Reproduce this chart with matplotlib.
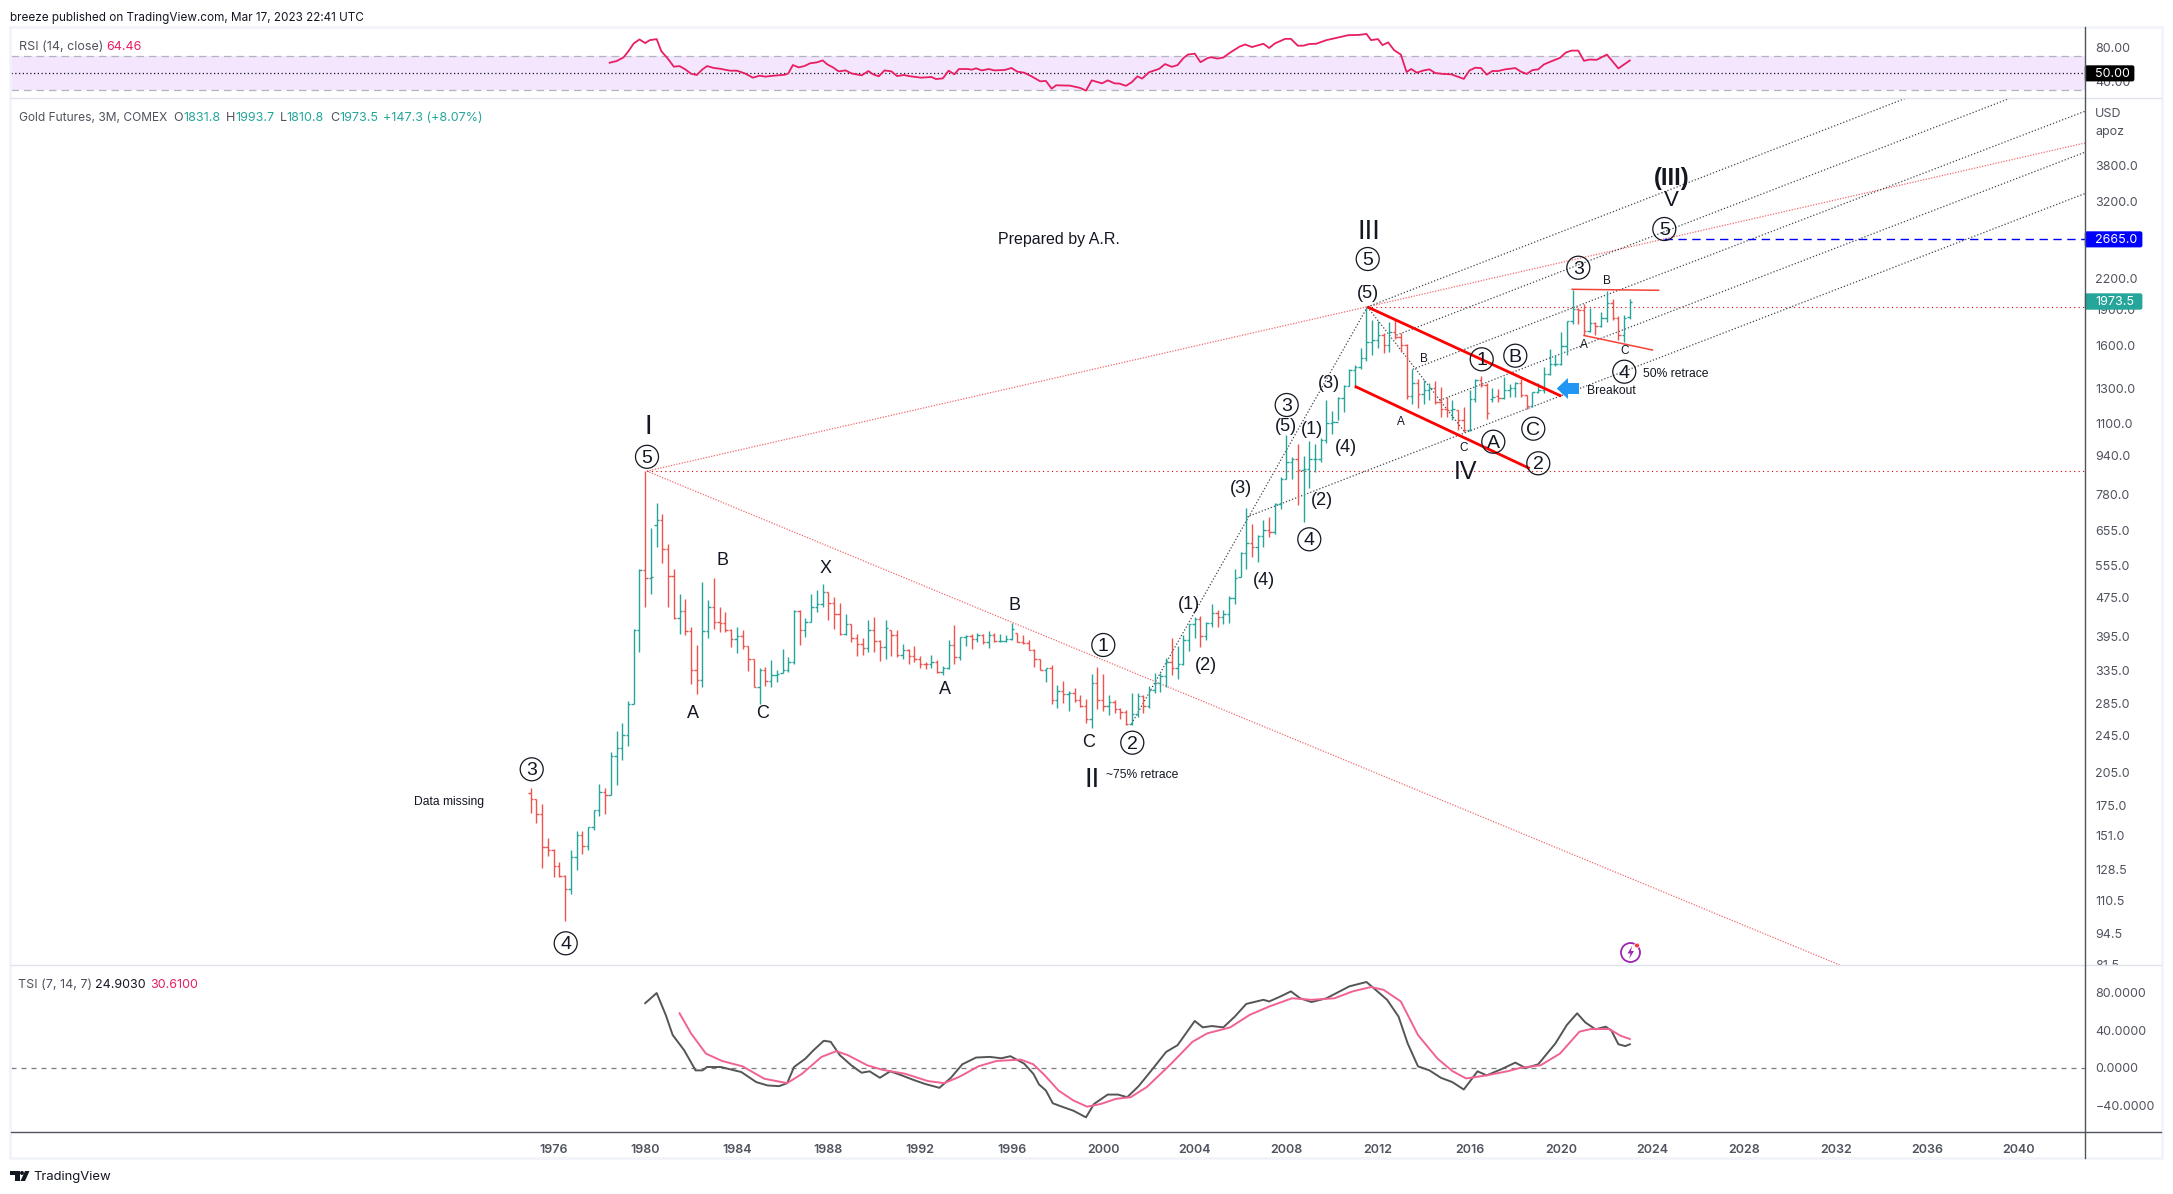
import numpy as np
import matplotlib
matplotlib.use('Agg')
import matplotlib.pyplot as plt
from matplotlib.patches import Circle, Polygon, Rectangle, FancyBboxPatch

W, H = 2173, 1194

# quarterly gold bars, one per quarter from 1975.0
first_year = 1975.0
opens = [
    186, 180, 168, 143, 141.5, 130.5, 124.5, 117, 136.5, 151.5,
    144, 157.5, 171, 187, 184, 221.5, 230, 245, 284.5, 406,
    542, 521, 673, 691, 601.5, 526.5, 430.5, 446, 404, 335,
    319.5, 405, 454.5, 423.5, 420.5, 406, 388.5, 395, 376.5, 353,
    309.5, 335, 318, 327, 331, 336, 348.5, 445.5, 407.5, 422.5,
    454.5, 460, 488, 462, 438.5, 398.5, 418, 390.5, 381, 373,
    406, 386, 375, 406, 396.5, 360, 370, 358.5, 354.5, 346,
    345, 348.5, 332, 339, 379, 357, 393, 394.5, 388.5, 396.5,
    383.5, 396.5, 386, 386, 388.5, 400, 384, 382, 370, 354.5,
    336, 338, 291, 303.5, 298.5, 300, 290, 282.5, 264.5, 314.5,
    290, 282.5, 287.5, 277.5, 274.5, 258.5, 271.5, 296.5, 282, 304.5,
    314.5, 325.5, 348.5, 338, 346, 387, 418, 429.5, 394.5, 420.5,
    442, 433, 438.5, 473.5, 525, 589, 618, 606, 638, 659,
    651.5, 746, 842.5, 910.5, 927.5, 879.5, 884, 927.5, 927.5, 1016,
    1100, 1105.5, 1243, 1313, 1423, 1439, 1502, 1625, 1640, 1678,
    1599, 1704, 1664, 1599, 1250, 1334, 1267, 1287, 1300, 1218,
    1179, 1173, 1170, 1114, 1062, 1237, 1355, 1323, 1237, 1250,
    1243, 1287, 1305, 1334, 1258, 1192, 1278, 1287, 1395, 1464,
    1464, 1593, 1797, 1907, 1897, 1712, 1780, 1752, 1827, 1955,
    1827, 1678, 1831.8,
]
highs = [
    190, 180, 176, 149.5, 142, 133, 125, 141.5, 155, 155,
    157.5, 171, 193.5, 190, 226, 250, 260, 289, 409.5, 544,
    873, 665.5, 750, 709, 614, 546.5, 483, 471, 412.5, 378,
    511.5, 469, 521.5, 454.5, 443.5, 408, 412.5, 406, 376.5, 354.5,
    338, 340.5, 351.5, 335, 370.5, 357, 447, 447, 430, 483,
    492.5, 508.5, 488, 476.5, 462.5, 438.5, 418, 398.5, 392, 426,
    433, 387, 426, 406, 407.5, 379.5, 372, 376, 359, 348.5,
    360.5, 351.5, 342.5, 387, 416, 393, 396.5, 398.5, 401, 399.5,
    404, 401, 398.5, 396.5, 420.5, 401, 396.5, 387, 372, 354.5,
    338, 343, 312, 318, 303.5, 307, 297, 292.5, 329.5, 340,
    328.5, 297, 290, 279, 276.5, 300, 300.5, 297, 310.5, 330.5,
    330.5, 356, 392, 376, 396.5, 418, 433, 434.5, 422.5, 460,
    448.5, 447, 480, 546.5, 592, 732.5, 678.5, 641, 691, 699.5,
    749, 847.5, 1037, 935, 993.5, 938, 1008, 993.5, 1022.5, 1227,
    1165.5, 1246, 1319, 1430, 1453, 1577, 1923, 1804, 1797, 1693,
    1790, 1804, 1693, 1607, 1430, 1362, 1355, 1332, 1347, 1308,
    1246, 1227, 1170, 1188, 1288, 1362, 1377, 1334, 1300, 1298,
    1373, 1330, 1340, 1362, 1260, 1278, 1334, 1441, 1570, 1525,
    1704, 1797, 2089, 1915, 1953, 1915, 1785, 1877, 2078, 2000,
    1843, 1851, 1993.7,
]
lows = [
    169, 161, 129.5, 137, 124, 124, 100.5, 114, 128.5, 138.5,
    141, 155.5, 166.5, 167.5, 184, 193, 218, 233, 284.5, 366,
    454, 483, 606, 561, 454.5, 429.5, 398, 396.5, 313, 298.5,
    309.5, 391.5, 409.5, 403, 403, 375, 364, 372, 334, 308.5,
    284.5, 310.5, 309.5, 317, 330.5, 332, 346, 378, 393, 422.5,
    443.5, 454.5, 426, 408, 396.5, 396.5, 383, 359, 360.5, 366,
    366, 350.5, 354.5, 359, 357, 354.5, 346, 348.5, 338, 336.5,
    338, 330.5, 328, 336.5, 345, 351.5, 376, 370.5, 383, 379.5,
    373, 384.5, 384.5, 384.5, 387, 384, 381, 369, 340.5, 335,
    317, 284.5, 279.5, 286.5, 275.5, 287.5, 281, 260.5, 254, 278,
    275.5, 270, 272.5, 264.5, 257, 257, 267, 272.5, 279, 300,
    302, 309.5, 327.5, 321.5, 343, 367.5, 390.5, 374, 387, 412.5,
    412.5, 419.5, 420.5, 460, 525, 546.5, 577.5, 564, 606, 634.5,
    644, 729, 842.5, 842.5, 741, 683.5, 806.5, 869.5, 911, 997.5,
    1046, 1114, 1160, 1313, 1300, 1430, 1480, 1525, 1577, 1538,
    1551, 1651, 1551, 1237, 1204, 1185, 1208, 1227, 1208, 1132,
    1132, 1114, 1062, 1054, 1059, 1218, 1308, 1123, 1216, 1218,
    1237, 1246, 1246, 1246, 1179, 1188, 1272, 1272, 1385, 1446,
    1453, 1525, 1775, 1769, 1678, 1704, 1678, 1747, 1789, 1804,
    1640, 1625, 1810.8,
]
closes = [
    180, 168, 143, 141.5, 130.5, 124.5, 117, 136.5, 151.5, 144,
    157.5, 171, 187, 184, 221.5, 230, 245, 284.5, 406, 542,
    521, 524, 689, 601.5, 526.5, 430.5, 446, 404, 335, 319.5,
    405, 454.5, 423.5, 420.5, 407.5, 388.5, 395, 376.5, 353, 309.5,
    335, 318, 327, 329.5, 336, 348.5, 445.5, 407.5, 422.5, 454.5,
    460, 488, 462, 438.5, 398.5, 418, 390.5, 381, 373, 406,
    386, 375, 410, 396.5, 360, 370, 358.5, 354.5, 346, 345,
    348.5, 332, 339, 379, 357, 393, 394.5, 388.5, 396.5, 383.5,
    396.5, 386, 386, 388.5, 408.5, 384, 382, 370, 354.5, 336,
    338, 291, 303.5, 298.5, 300, 290, 282.5, 264.5, 314.5, 290,
    282.5, 287.5, 277.5, 274.5, 258.5, 271.5, 296.5, 282, 304.5, 314.5,
    325.5, 348.5, 338, 346, 387, 418, 429.5, 394.5, 420.5, 442,
    433, 438.5, 473.5, 521, 589, 618, 606, 638, 659, 651.5,
    746, 842.5, 910.5, 927.5, 879.5, 884, 927.5, 927.5, 1016, 1100,
    1105.5, 1243, 1313, 1423, 1439, 1502, 1625, 1640, 1678, 1599,
    1704, 1664, 1599, 1250, 1334, 1267, 1287, 1300, 1218, 1179,
    1173, 1175, 1114, 1062, 1237, 1355, 1323, 1152, 1246, 1243,
    1287, 1305, 1334, 1258, 1192, 1278, 1287, 1395, 1464, 1464,
    1593, 1797, 1907, 1897, 1712, 1780, 1752, 1827, 1955, 1827,
    1678, 1825, 1973.5,
]

rsi_years = [
    1978.45, 1978.75, 1979.05, 1979.25, 1979.5, 1979.75, 1980.0, 1980.2, 1980.5, 1980.7,
    1981.0, 1981.25, 1981.5, 1981.75, 1982.0, 1982.25, 1982.5, 1982.7, 1983.0, 1983.25,
    1983.7, 1984.0, 1984.35, 1984.7, 1985.0, 1985.25, 1985.6, 1986.1, 1986.25, 1986.45,
    1986.7, 1986.95, 1987.2, 1987.5, 1987.75, 1987.95, 1988.2, 1988.45, 1988.75, 1989.0,
    1989.45, 1989.75, 1989.95, 1990.2, 1990.45, 1990.75, 1991.0, 1991.3, 1991.5, 1992.05,
    1992.5, 1992.7, 1993.0, 1993.25, 1993.5, 1993.7, 1994.1, 1994.25, 1994.45, 1994.7,
    1995.0, 1995.25, 1995.7, 1996.0, 1996.25, 1996.55, 1996.85, 1997.25, 1997.5, 1997.75,
    1997.95, 1998.55, 1999.0, 1999.25, 1999.5, 1999.95, 2000.2, 2000.5, 2000.7, 2001.0,
    2001.25, 2001.5, 2001.7, 2002.0, 2002.45, 2002.7, 2003.0, 2003.25, 2003.5, 2003.7,
    2004.0, 2004.25, 2004.55, 2004.7, 2005.0, 2005.25, 2005.5, 2005.95, 2006.2, 2006.5,
    2007.0, 2007.25, 2007.5, 2007.95, 2008.2, 2008.5, 2008.75, 2009.0, 2009.3, 2009.75,
    2010.2, 2010.7, 2011.2, 2011.5, 2011.7, 2012.0, 2012.2, 2012.45, 2012.7, 2013.0,
    2013.25, 2013.45, 2013.7, 2014.0, 2014.25, 2014.5, 2014.85, 2015.2, 2015.75, 2016.0,
    2016.25, 2016.5, 2016.75, 2017.0, 2017.25, 2017.55, 2018.0, 2018.25, 2018.5, 2018.75,
    2019.0, 2019.25, 2019.55, 2019.95, 2020.2, 2020.45, 2020.75, 2021.0, 2021.25, 2021.55,
    2022.0, 2022.25, 2022.5, 2023.0,
]
rsi_values = [
    61.9, 63.8, 68, 74.6, 84.2, 88.8, 84.6, 88, 89.2, 75.4,
    66.2, 57.3, 58, 54.2, 49.2, 47.7, 54.2, 58, 55.8, 55,
    52.7, 52.7, 49.6, 44.6, 46.9, 45.8, 46.9, 48, 49.6, 59.2,
    56.5, 58, 61.2, 62.3, 64.6, 60, 56.5, 51.9, 53, 49.6,
    47.3, 52.3, 48.5, 46.2, 53, 51.9, 46.5, 47.7, 46.5, 44.6,
    45.4, 43, 43.8, 52.7, 48.5, 54.6, 54.6, 53.8, 55.4, 53,
    54.6, 53, 53.5, 55.8, 51.5, 50.4, 46.5, 40.4, 40.8, 31.9,
    35.8, 35.4, 32.7, 29.6, 41.5, 38, 41.5, 38, 37.8, 35.2,
    39.4, 46.2, 43.5, 50.8, 54.9, 60.3, 57.2, 59.1, 67.1, 71.3,
    72.4, 62.5, 67.1, 68.3, 66.7, 67.9, 72.8, 80.4, 83, 80,
    83.8, 78.9, 84.2, 89.5, 89.5, 81.6, 81.6, 83.5, 83.8, 88,
    90.7, 93.7, 94.1, 95.2, 88, 89.2, 82.3, 85.4, 76.6, 71.3,
    51.1, 54.6, 50.4, 53, 54.2, 50, 48.9, 48.5, 43.2, 53,
    56.1, 55.7, 48.1, 52.3, 52.3, 54.2, 55.7, 51.5, 48.9, 53.4,
    54.2, 59.9, 63.3, 67.5, 73.6, 75.9, 75.9, 64.1, 65.6, 65.2,
    71.3, 63.3, 55.3, 64.46,
]

tsi_years = [
    1980.0, 1980.5, 1980.9, 1981.2, 1981.7, 1982.2, 1982.5, 1982.7, 1983.3, 1984.2,
    1984.85, 1985.35, 1985.85, 1986.2, 1986.5, 1987.0, 1987.35, 1987.8, 1988.1, 1988.5,
    1989.0, 1989.45, 1989.8, 1990.25, 1990.7, 1991.2, 1991.7, 1992.2, 1992.85, 1993.35,
    1993.85, 1994.45, 1995.05, 1995.55, 1995.95, 1996.55, 1996.95, 1997.2, 1997.5, 1997.8,
    1998.2, 1998.7, 1999.25, 1999.6, 2000.2, 2000.65, 2001.05, 2001.55, 2002.05, 2002.75,
    2003.25, 2004.0, 2004.35, 2004.75, 2005.25, 2005.75, 2006.25, 2007.0, 2007.25, 2007.75,
    2008.2, 2008.6, 2009.1, 2009.75, 2010.75, 2011.5, 2011.9, 2012.4, 2012.9, 2013.3,
    2013.75, 2014.25, 2014.75, 2015.25, 2015.75, 2016.35, 2016.75, 2017.45, 2018.0, 2018.45,
    2019.0, 2019.75, 2020.25, 2020.7, 2021.05, 2021.5, 2021.95, 2022.2, 2022.5, 2022.8,
    2023.0,
]
tsi_values = [
    68.8, 79.6, 56, 34.8, 18.6, -2.9, -2.9, 0.7, 0.7, -4.7,
    -15.4, -19, -19.7, -16.5, 0.7, 9.7, 18.6, 28.7, 27.6, 13.3,
    2.5, -5.4, -3.9, -10.8, -3.9, -8.2, -12.9, -17.2, -21.5, -10.8,
    3.6, 10.8, 11.5, 10, 12.2, 4.3, -6.5, -17.9, -24.4, -38,
    -41.6, -45.9, -53, -38.7, -28.7, -28.7, -31.5, -19.7, -4.7, 16.8,
    24, 49.8, 43, 44.4, 43, 54.5, 68, 72.4, 70.6, 76,
    81.4, 74, 70, 74, 86.7, 91.4, 83, 72.4, 54.5, 25.8,
    1.4, -2.9, -10.8, -15.4, -23.3, -3.9, -8.2, -1, 5.4, -0.4,
    3.6, 25.8, 45.5, 58, 48.4, 40.9, 43.7, 39.4, 25, 23,
    24.9,
]
signal_years = [
    1981.5, 1982.0, 1982.65, 1983.35, 1984.25, 1985.2, 1986.2, 1986.85, 1987.7, 1988.35,
    1988.85, 1989.7, 1990.35, 1991.35, 1992.35, 1993.05, 1993.7, 1994.55, 1995.35, 1996.4,
    1996.95, 1997.45, 1998.05, 1998.7, 1999.3, 1999.9, 2000.55, 2001.2, 2001.9, 2002.9,
    2003.9, 2004.55, 2005.55, 2006.4, 2007.25, 2008.25, 2009.1, 2010.1, 2010.9, 2011.7,
    2012.25, 2013.0, 2013.75, 2014.6, 2015.25, 2015.85, 2016.75, 2017.7, 2018.25, 2019.1,
    2019.95, 2020.8, 2021.3, 2022.1, 2022.6, 2023.0,
]
signal_values = [
    58, 36.6, 15, 7.2, 1.4, -11.8, -16.5, -6.5, 11.5, 17.6,
    13.3, 2.5, -2.2, -6.5, -14.3, -16.5, -10, 1.4, 7.2, 8.6,
    3.6, -8.2, -24.4, -35, -41.6, -38.7, -33.3, -31.5, -20.8, 2.5,
    27.6, 36.6, 43, 56.3, 65.2, 74, 72.4, 74, 81.4, 86,
    83, 70.6, 34.8, 9.7, -3.6, -11.5, -8.2, -3.6, 0, 2.5,
    15, 38.4, 41.2, 41.2, 34, 30.61,
]

price_ticks = [3800, 3200, 2200, 1900, 1600, 1300, 1100, 940, 780, 655, 555, 475, 395,
               335, 285, 245, 205, 175, 151, 128.5, 110.5, 94.5, 81.5]
rsi_ticks = [80, 40]
tsi_ticks = [80, 40, 0, -40]
year_ticks = list(range(1976, 2044, 4))

# drawn lines as (year, price)
salmon_lines = [
    ((1980.07, 873), (2042.88, 4230)),
    ((1980.07, 873), (2032.17, 81.2)),
]
level_lines = [(1980.07, 873), (2011.54, 1923)]
grey_lines = [
    ((2011.54, 1923), (2035.05, 5244)),
    ((2012.81, 1679), (2039.6, 5244)),
    ((2013.52, 1425), (2042.87, 4926)),
    ((2014.7, 1227), (2042.87, 4045)),
    ((2006.26, 700), (2042.87, 3316)),
    ((2001.24, 259), (2011.54, 1923)),
    ((2011.54, 1923), (2015.79, 1053.5)),
]
thick_red = [
    ((2011.54, 1923), (2020.01, 1252)),
    ((2010.99, 1313), (2018.63, 884)),
]
thin_red = [
    ((2020.48, 2093), (2024.26, 2083)),
    ((2021.0, 1676), (2023.99, 1563)),
]
target_price = 2665.0
target_start = 2024.48

UP = '#26a69a'
DOWN = '#ef5350'
TEXT = '#50535e'
INK = '#131722'
LINE = '#e0e3eb'
AXIS = '#50535e'
PINK = '#e91e63'
ANNO = 'Liberation Sans'

plt.rcParams['font.family'] = ['Inter', 'DejaVu Sans']
fig = plt.figure(figsize=(W / 100, H / 100), dpi=100, facecolor='white')


def axes_px(x0, y0, x1, y1):
    a = fig.add_axes([x0 / W, 1 - y1 / H, (x1 - x0) / W, (y1 - y0) / H])
    a.set_xlim(1952.28, 2042.88)
    for s in a.spines.values():
        s.set_visible(False)
    a.tick_params(length=0, labelsize=9, labelcolor=TEXT, pad=7.4)
    a.yaxis.tick_right()
    a.set_xticks([])
    return a


ax_rsi = axes_px(10.5, 27, 2085, 98.3)
ax = axes_px(10.5, 98.3, 2085, 965)
ax_tsi = axes_px(10.5, 965, 2085, 1131.7)

# RSI
ax_rsi.set_ylim(20.75, 103.2)
ax_rsi.axhspan(30, 70, color='#f4e6fc', lw=0)
ax_rsi.axhline(70, color='#b2b5be', lw=0.9, dashes=(6, 4))
ax_rsi.axhline(30, color='#b2b5be', lw=0.9, dashes=(6, 4))
ax_rsi.axhline(50, color='#131722', lw=0.9, dashes=(1, 2))
ax_rsi.plot(rsi_years, rsi_values, color=PINK, lw=1.3)
ax_rsi.set_yticks(rsi_ticks, [f'{t:.2f}' for t in rsi_ticks])

# price panel
ax.set_yscale('log')
ax.set_ylim(81.2, 5244)
ax.minorticks_off()
ax.set_yticks(price_ticks, [f'{t:.1f}' for t in price_ticks])
ax.minorticks_off()

xs = first_year + np.arange(len(closes)) / 4
o = np.array(opens)
c = np.array(closes)
bar_col = [UP if b >= a else DOWN for a, b in zip(o, c)]
ax.vlines(xs, lows, highs, colors=bar_col, lw=1.0, zorder=3)
ax.hlines(o, xs - 0.105, xs, colors=bar_col, lw=1.0, zorder=3)
ax.hlines(c, xs, xs + 0.105, colors=bar_col, lw=1.0, zorder=3)

for p, q in salmon_lines:
    ax.plot([p[0], q[0]], [p[1], q[1]], color='#f46a6e', lw=0.9, ls=(0, (1, 1.2)), zorder=2)
for yr, lvl in level_lines:
    ax.plot([yr, 2042.88], [lvl, lvl], color='#d90000', lw=0.8, ls=(0, (1, 3)), zorder=2)
for p, q in grey_lines:
    ax.plot([p[0], q[0]], [p[1], q[1]], color='#45474f', lw=0.9, ls=(0, (1, 1.6)), zorder=2)
for p, q in thick_red:
    ax.plot([p[0], q[0]], [p[1], q[1]], color='#ff0000', lw=2.0, zorder=4, solid_capstyle='butt')
for p, q in thin_red:
    ax.plot([p[0], q[0]], [p[1], q[1]], color='#f44336', lw=1.1, zorder=4)
ax.plot([target_start, 2042.88], [target_price, target_price], color='#0000ff', lw=1.0,
        dashes=(6, 4), zorder=2)

# TSI
ax_tsi.set_ylim(-68.3, 109.5)
ax_tsi.axhline(0, color='#787b86', lw=0.9, dashes=(4, 4))
ax_tsi.plot(tsi_years, tsi_values, color='#555555', lw=1.4)
ax_tsi.plot(signal_years, signal_values, color='#f06292', lw=1.4)
ax_tsi.set_yticks(tsi_ticks, ['80.0000', '40.0000', '0.0000', '\u221240.0000'])
ax_tsi.set_xticks(year_ticks, [str(y) for y in year_ticks], fontweight='semibold', color=TEXT, fontsize=9)
ax_tsi.tick_params(axis='x', pad=8.5)

# overlay in figure pixels: frame, text labels, badges
top = fig.add_axes([0, 0, 1, 1], facecolor='none', zorder=10)
top.set_xlim(0, W)
top.set_ylim(H, 0)
top.axis('off')


def label(x, y, s, size=13, color=INK, ha='center', family=ANNO, **kw):
    top.text(x, y + 1.5, s, fontsize=size, color=color, ha=ha, va='center', family=family, **kw)


def circled(x, y, s):
    top.add_patch(Circle((x, y), 11.5, fc='none', ec=INK, lw=0.9))
    label(x, y, s, size=14)


def badge(x1, y0, y1, s, fc):
    top.add_patch(FancyBboxPatch((2085.5, y0 + 1), x1 - 2085.5 - 1, y1 - y0 - 2,
                                 boxstyle='round,pad=0,rounding_size=1.5', fc=fc, ec=fc, lw=1))
    label(2095, (y0 + y1) / 2 - 1, s, size=9, color='white', ha='left', family='Inter')


# cover for the cut off lowest price label
top.add_patch(Rectangle((2086, 965), 75, 14, fc='white', ec='none'))

# frame and separators
top.add_patch(Rectangle((9.5, 27), 2152.5, 1131, fc='none', ec='#f0f3fa', lw=1.8))
top.plot([10.5, 2161], [98.3, 98.3], color=LINE, lw=1)
top.plot([10.5, 2161], [965, 965], color=LINE, lw=1)
top.plot([10.5, 2161], [1131.7, 1131.7], color=AXIS, lw=1)
top.plot([2085.3, 2085.3], [27, 1158], color=AXIS, lw=1)

# header lines
label(10, 16.5, 'breeze published on TradingView.com, Mar 17, 2023 22:41 UTC', size=8.45,
      color=INK, ha='left', family='Inter')
label(18.7, 45, 'RSI (14, close)', size=9, color=TEXT, ha='left', family='Inter')
label(105.8, 45, '64.46', size=9, color=PINK, ha='left', family='Inter')
label(18.7, 116.7, 'Gold Futures, 3M, COMEX', size=8.6, color=TEXT, ha='left', family='Inter')
for x, s, col in [(173, 'O', TEXT), (183, '1831.8', UP), (226, 'H', TEXT), (235, '1993.7', UP),
                  (279.5, 'L', TEXT), (286.6, '1810.8', UP), (330, 'C', TEXT), (339, '1973.5', UP),
                  (382.6, '+147.3 (+8.07%)', UP)]:
    label(x, 116.7, s, size=9, color=col, ha='left', family='Inter')
label(18, 983.7, 'TSI (7, 14, 7)', size=9, color=TEXT, ha='left', family='Inter')
label(95, 983.7, '24.9030', size=9, color=INK, ha='left', family='Inter')
label(150, 983.7, '30.6100', size=9, color=PINK, ha='left', family='Inter')
label(2095.3, 112.7, 'USD', size=9, color=TEXT, ha='left', family='Inter')
label(2095.3, 130, 'apoz', size=9, color=TEXT, ha='left', family='Inter')

badge(2134.7, 65, 81.7, '50.00', '#000000')
badge(2142.7, 231, 247.7, '2665.0', '#0000ff')
badge(2142.7, 293, 310, '1973.5', UP)

# wave counts
for x, y, s in [(531.7, 769.3, '3'), (565.7, 943.3, '4'), (647, 456.8, '5'), (1103.3, 645, '1'),
                (1132.3, 742.7, '2'), (1286.7, 405, '3'), (1309.3, 539.3, '4'), (1367.7, 259, '5'),
                (1493.3, 441.7, 'A'), (1481.7, 359.3, '1'), (1515.3, 355.7, 'B'), (1533.3, 428.7, 'C'),
                (1538.3, 463.3, '2'), (1578.3, 267.7, '3'), (1624.3, 371.7, '4'), (1664.3, 229, '5')]:
    circled(x, y, s)
for x, y, s in [(693.3, 711.7, 'A'), (722, 559.3, 'B'), (762.5, 711.7, 'C'), (825.3, 567.3, 'X'),
                (945, 688.3, 'A'), (1014.4, 604, 'B'), (1088.6, 741, 'C'),
                (1189.3, 603.3, '(1)'), (1206, 664.3, '(2)'), (1241.3, 487.3, '(3)'),
                (1264.3, 579.3, '(4)'), (1286, 425, '(5)'), (1311.7, 428.3, '(1)'),
                (1322.3, 498.7, '(2)'), (1329, 381.7, '(3)'), (1345.7, 445.7, '(4)'),
                (1368.3, 291.7, '(5)')]:
    label(x, y, s, size=13)
for x, y, s in [(1401, 420.7, 'A'), (1424, 357.7, 'B'), (1464, 446.7, 'C'),
                (1606.7, 279, 'B'), (1584, 344, 'A'), (1624.3, 349, 'C')]:
    label(x, y, s, size=8.5)
for x, y, s, size in [(648.4, 425, 'I', 20), (1091.7, 778.3, 'II', 20), (1369.3, 230.7, 'III', 20),
                      (1466, 470.7, 'IV', 18), (1671, 199, 'V', 16)]:
    label(x, y, s, size=size)
label(1672, 177, '(III)', size=17, fontweight='bold')
label(997.5, 238, 'Prepared by A.R.', size=11.5, ha='left')
label(414, 800, 'Data missing', size=8.7, ha='left')
label(1105.7, 773, '~75% retrace', size=8.7, ha='left')
label(1643.3, 372.5, '50% retrace', size=8.7, ha='left')
label(1586.7, 389, 'Breakout', size=8.7, ha='left')

# breakout arrow
top.add_patch(Polygon([(1556.7, 388.5), (1568, 378), (1568, 383), (1579, 383), (1579, 394),
                       (1568, 394), (1568, 399)], closed=True, fc='#2196f3', ec='none'))

# lightning badge
top.add_patch(Circle((1630.5, 952.5), 9.5, fc='none', ec='#9c27b0', lw=1.3))
top.add_patch(Polygon([(1632, 946), (1627.5, 953.5), (1630.5, 953.5), (1629, 959), (1634, 951),
                       (1631, 951)], closed=True, fc='#9c27b0', ec='none'))
top.add_patch(Circle((1637, 945.5), 2.4, fc='#f23645', ec='white', lw=0.5))

# footer logo
top.add_patch(Polygon([(10, 1171), (19.5, 1171), (19.5, 1181), (15, 1181), (15, 1175), (10, 1175)],
                      closed=True, fc=INK, ec='none'))
top.add_patch(Circle((22, 1173), 2, fc=INK, ec='none'))
top.add_patch(Polygon([(25, 1171), (29.5, 1171), (25, 1181), (20.5, 1181)], closed=True, fc=INK, ec='none'))
label(33.5, 1175.5, 'TradingView', size=9.4, color=INK, ha='left', family='Inter')

fig.savefig('out.png', dpi=100)
